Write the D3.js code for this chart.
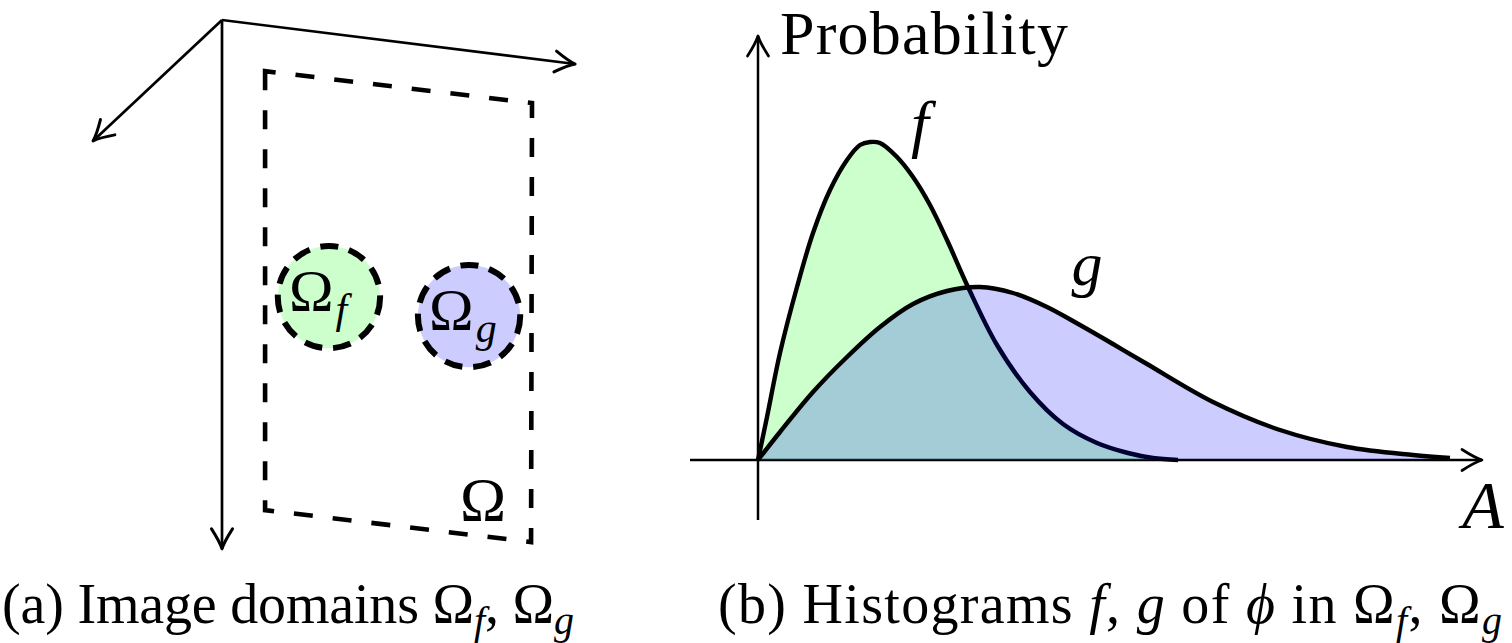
<!DOCTYPE html>
<html>
<head>
<meta charset="utf-8">
<script src="https://cdn.jsdelivr.net/npm/d3@7/dist/d3.min.js"></script>
<style>
  html, body { margin: 0; padding: 0; background: #fff; }
  svg { display: block; }
  svg text { font-family: "Liberation Serif", "DejaVu Serif", serif; }
</style>
</head>
<body>
<svg id="chart" width="1512" height="643"></svg>
<script>
// ---------- data ----------
// Histogram curves (A value, probability)
const fX = [0, 0.09, 0.22, 0.39, 0.55, 0.72, 0.89, 1.02, 1.12, 1.22, 1.39, 1.55, 1.72, 1.89, 2.1, 2.39, 2.72, 3.05, 3.39, 3.7, 3.95, 4.2];
const fY = [0, 0.43, 1.07, 1.73, 2.27, 2.7, 3.0, 3.15, 3.18, 3.17, 3.03, 2.83, 2.55, 2.2, 1.73, 1.15, 0.68, 0.36, 0.17, 0.07, 0.02, 0];
const gX = [0, 0.22, 0.55, 0.89, 1.22, 1.55, 1.89, 2.22, 2.55, 2.89, 3.22, 3.55, 3.89, 4.55, 5.22, 5.89, 6.55, 6.92];
const gY = [0, 0.28, 0.68, 1.03, 1.33, 1.56, 1.69, 1.73, 1.67, 1.53, 1.35, 1.16, 0.96, 0.58, 0.3, 0.13, 0.05, 0.02];
const axisXRange = [-0.68, 7.24];
const axisYRange = [-0.6, 4.24];

// Image-domain diagram (diagram units)
const domainOrigin = [0, 0];
const domainAxisTips = [[11.39, 1.42], [-4.16, 3.9], [0, 17.06]];
const domainFrame = [[1.39, 1.65], [1.39, 15.81], [9.97, 16.84], [10, 2.68]];
const regionNames = ["f", "g"];
const regionCenters = [[3.45, 8.94], [7.97, 9.55]];
const regionRadius = 1.65;

// ---------- setup ----------
const svg = d3.select("#chart");

const lx = d3.scaleLinear().domain([0, 10]).range([222, 532]);
const ly = d3.scaleLinear().domain([0, 10]).range([20, 330]);
const x = d3.scaleLinear().domain([0, 7]).range([758, 1458]);
const y = d3.scaleLinear().domain([0, 3.2]).range([460, 140]);

function txt(g) {
  return g.append("text").attr("fill", "#000");
}

function arrowHead(g, tipX, tipY, angle, L, W, sw) {
  const p = `M${-L},${-W} C${-L*0.55},${-W*0.45} ${-L*0.2},${-W*0.12} 0,0 C${-L*0.2},${W*0.12} ${-L*0.55},${W*0.45} ${-L},${W}`;
  g.append("path")
    .attr("d", p)
    .attr("transform", `translate(${tipX},${tipY}) rotate(${angle*180/Math.PI})`)
    .attr("fill", "none").attr("stroke", "#000")
    .attr("stroke-width", sw).attr("stroke-linecap", "round").attr("stroke-linejoin", "round");
}

// ---------- left panel ----------
const left = svg.append("g");
domainAxisTips.forEach(t => {
  const x0 = lx(domainOrigin[0]), y0 = ly(domainOrigin[1]);
  const x1 = lx(t[0]), y1 = ly(t[1]);
  left.append("line").attr("x1", x0).attr("y1", y0).attr("x2", x1).attr("y2", y1)
    .attr("stroke", "#000").attr("stroke-width", 2.7);
  arrowHead(left, x1, y1, Math.atan2(y1 - y0, x1 - x0), 20, 10.5, 3);
});

left.append("path")
  .attr("d", d3.line().x(d => lx(d[0])).y(d => ly(d[1])).curve(d3.curveLinearClosed)(domainFrame))
  .attr("fill", "none").attr("stroke", "#000").attr("stroke-width", 4.6)
  .attr("stroke-dasharray", "19 20");

const regionFill = { f: "rgba(0,255,0,0.2)", g: "rgba(0,0,255,0.2)" };
regionNames.forEach((n, i) => {
  const c = regionCenters[i];
  left.append("circle")
    .attr("cx", lx(c[0])).attr("cy", ly(c[1]))
    .attr("r", lx(regionRadius) - lx(0))
    .attr("fill", regionFill[n]).attr("stroke", "#000")
    .attr("stroke-width", 6).attr("stroke-dasharray", "18 11");
  const t = txt(left)
    .attr("x", lx(c[0]) - 40).attr("y", ly(c[1]) + 14)
    .attr("font-size", 60);
  t.append("tspan").text("Ω");
  t.append("tspan").attr("font-style", "italic").attr("font-size", 42).attr("dx", 2).attr("dy", 12).text(n);
});

txt(left).attr("x", lx(8.42)).attr("y", ly(16.13))
  .attr("text-anchor", "middle").attr("font-size", 62).text("Ω");

// ---------- right panel ----------
const right = svg.append("g");
right.append("line").attr("x1", x(axisXRange[0])).attr("x2", x(axisXRange[1]))
  .attr("y1", y(0)).attr("y2", y(0)).attr("stroke", "#000").attr("stroke-width", 2.5);
arrowHead(right, x(axisXRange[1]), y(0), 0, 20, 10.5, 2.7);
right.append("line").attr("x1", x(0)).attr("x2", x(0))
  .attr("y1", y(axisYRange[0])).attr("y2", y(axisYRange[1])).attr("stroke", "#000").attr("stroke-width", 2.5);
arrowHead(right, x(0), y(axisYRange[1]), -Math.PI / 2, 20, 10.5, 2.7);

const series = [
  { xs: fX, ys: fY, fill: "rgba(0,255,0,0.2)" },
  { xs: gX, ys: gY, fill: "rgba(0,0,255,0.2)" }
];
const curve = d3.curveCatmullRom.alpha(0.5);
series.forEach(s => {
  const pts = s.xs.map((v, i) => [v, s.ys[i]]);
  right.append("path")
    .attr("d", d3.area().x(d => x(d[0])).y0(y(0)).y1(d => y(d[1])).curve(curve)(pts))
    .attr("fill", s.fill).attr("stroke", "none");
  right.append("path")
    .attr("d", d3.line().x(d => x(d[0])).y(d => y(d[1])).curve(curve)(pts))
    .attr("fill", "none").attr("stroke", "#000").attr("stroke-width", 4.4);
});

txt(right).attr("x", x(0.22)).attr("y", y(4.06)).attr("font-size", 62)
  .attr("textLength", 288).attr("lengthAdjust", "spacing").text("Probability");
txt(right).attr("x", x(1.62)).attr("y", y(3.15)).attr("text-anchor", "middle")
  .attr("font-size", 64).attr("font-style", "italic").text("f");
txt(right).attr("x", x(3.29)).attr("y", y(1.75)).attr("text-anchor", "middle")
  .attr("font-size", 62).attr("font-style", "italic").text("g");
txt(right).attr("x", x(7.25)).attr("y", y(-0.68)).attr("text-anchor", "middle")
  .attr("font-size", 68).attr("font-style", "italic").text("A");

// ---------- captions ----------
function caption(xPos, len, parts) {
  const t = txt(svg).attr("x", xPos).attr("y", 623).attr("font-size", 56)
    .attr("textLength", len).attr("lengthAdjust", "spacing");
  parts.forEach(p => {
    const ts = t.append("tspan").text(p.t);
    if (p.i) ts.attr("font-style", "italic");
    if (p.sub) ts.attr("font-size", 40).attr("dy", 11);
    if (p.up) ts.attr("dy", -11);
  });
}
caption(2, 572, [
  { t: "(a) Image domains Ω" }, { t: "f", i: true, sub: true }, { t: ", Ω", up: true },
  { t: "g", i: true, sub: true }
]);
caption(718, 784, [
  { t: "(b) Histograms " }, { t: "f", i: true }, { t: ", " }, { t: "g", i: true },
  { t: " of " }, { t: "ϕ", i: true }, { t: " in Ω" }, { t: "f", i: true, sub: true },
  { t: ", Ω", up: true }, { t: "g", i: true, sub: true }
]);
</script>
</body>
</html>
